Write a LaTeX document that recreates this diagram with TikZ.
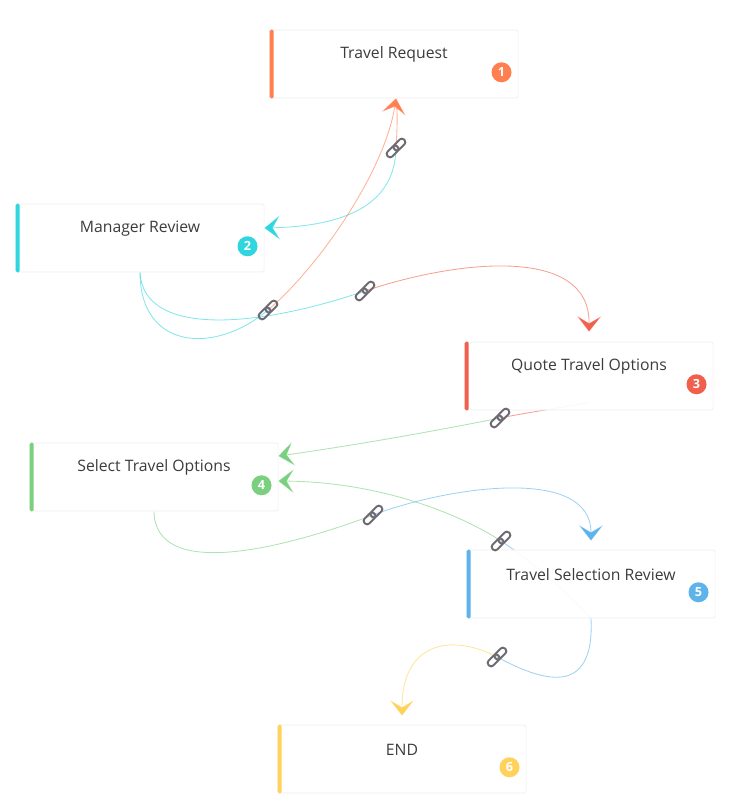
\documentclass[tikz,border=0pt]{standalone}
\usepackage{fontspec}
\setmainfont{Open Sans}
\usetikzlibrary{arrows.meta,backgrounds}
\definecolor{creq}{RGB}{255,127,80}
\definecolor{cmgr}{RGB}{48,214,222}
\definecolor{cquo}{RGB}{240,96,77}
\definecolor{csel}{RGB}{122,208,126}
\definecolor{ctsr}{RGB}{93,180,234}
\definecolor{cend}{RGB}{255,210,92}
\definecolor{textgray}{RGB}{60,60,60}
\definecolor{linkgray}{RGB}{110,106,116}

\begin{document}
\begin{tikzpicture}[x=0.025cm,y=-0.025cm,
  stepbox/.style={draw=black!7,fill=white,fill opacity=0.92,minimum width=6.2cm,minimum height=1.7cm,inner sep=0pt,rounded corners=1pt},
  steptext/.style={text=textgray,font=\fontsize{11.2}{13}\selectfont},
  badge/.style={circle,fill=#1,text=white,minimum size=0.5cm,inner sep=0pt,font=\fontsize{9}{9}\selectfont\bfseries},
  conn/.style={line width=0.6pt,draw=#1,draw opacity=0.6},
  headto/.style={-{Stealth[length=11pt,width=17pt,inset=5pt,color=#1]}},
  chain/.pic={\begin{scope}[rotate=45]
    \draw[linkgray,line width=1.4pt,rounded corners=0.075cm] (-0.29cm,-0.085cm) rectangle (0.05cm,0.085cm) (-0.05cm,-0.085cm) rectangle (0.29cm,0.085cm);
  \end{scope}}]
\useasboundingbox (0,0) rectangle (741,812);
\node[stepbox] (req) at (394,64) {};
\node[stepbox] (mgr) at (140,238) {};
\node[stepbox] (quo) at (589,376) {};
\node[stepbox] (sel) at (154,477) {};
\node[stepbox] (tsr) at (591,584) {};
\node[stepbox] (fin) at (402,759) {};
\foreach \n/\c/\k/\s in {req/creq/1/Travel Request,mgr/cmgr/2/Manager Review,quo/cquo/3/Quote Travel Options,sel/csel/4/Select Travel Options,tsr/ctsr/5/Travel Selection Review,fin/cend/6/END} {
  \fill[\c,rounded corners=1pt] (\n.north west) rectangle ([xshift=0.1cm]\n.south west);
  \node[steptext] (t\k) at ([yshift=-0.62cm]\n.north) {\s};
  \node[badge=\c] (b\k) at ([xshift=-0.42cm,yshift=0.65cm]\n.south east) {\k};
}
\coordinate (lk1) at (396,148);
\coordinate (lk2) at (268,310);
\coordinate (lk3) at (365,291);
\coordinate (lk4) at (500,418);
\coordinate (lk5) at (373,515);
\coordinate (lk6) at (501,541);
\coordinate (lk7) at (497,657);
\begin{pgfonlayer}{background}
\draw[conn=creq] ([xshift=0.05cm]req.south) .. controls (398,115) and (397,130) .. (lk1);
\draw[conn=cmgr,headto=cmgr] (lk1) .. controls (395,205) and (345,226) .. ([yshift=0.25cm]mgr.east);
\draw[conn=cmgr] (mgr.south) .. controls (140,350) and (215,355) .. (lk2);
\draw[conn=creq,headto=creq] (lk2) .. controls (320,266) and (385,170) .. ([xshift=0.05cm]req.south);
\draw[conn=cmgr] (mgr.south) .. controls (143,335) and (250,330) .. (lk3);
\draw[conn=cquo,headto=cquo] (lk3) .. controls (457,260) and (590,245) .. ([yshift=0.25cm]quo.north);
\draw[conn=cquo] ([yshift=0.2cm]quo.south) .. controls (560,408) and (530,412) .. (lk4);
\draw[conn=csel,headto=csel] (lk4) .. controls (430,432) and (350,446) .. ([yshift=0.525cm]sel.east);
\draw[conn=csel] (sel.south) .. controls (155,580) and (280,550) .. (lk5);
\draw[conn=ctsr,headto=ctsr] (lk5) .. controls (447,487) and (591,465) .. ([yshift=0.225cm]tsr.north);
\draw[conn=ctsr] (tsr.south) .. controls (565,590) and (530,560) .. (lk6);
\draw[conn=csel,headto=csel] (lk6) .. controls (460,514) and (380,482) .. ([yshift=-0.1cm]sel.east);
\draw[conn=ctsr] (tsr.south) .. controls (595,700) and (540,680) .. (lk7);
\draw[conn=cend,headto=cend] (lk7) .. controls (454,634) and (402,640) .. ([yshift=0.225cm]fin.north);
\end{pgfonlayer}
\foreach \l in {lk1,lk2,lk3,lk4,lk5,lk6,lk7}
  \pic at (\l) {chain};
\end{tikzpicture}
\end{document}
